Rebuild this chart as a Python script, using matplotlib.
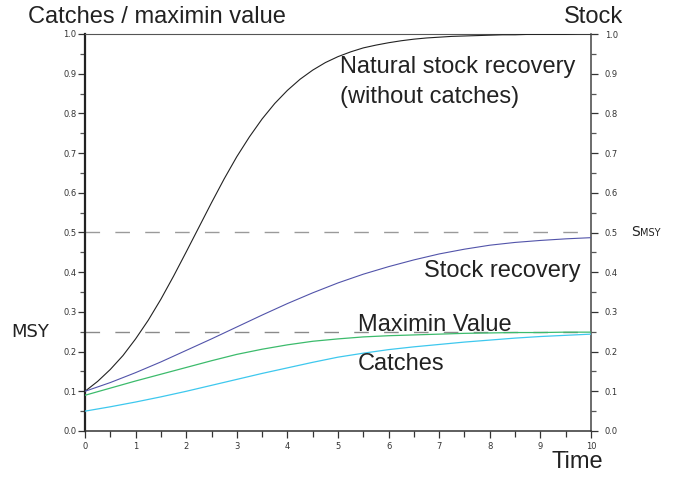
import numpy as np
import matplotlib
matplotlib.use("Agg")
import matplotlib.pyplot as plt
from matplotlib.ticker import MultipleLocator

# ---------------- data ----------------
t_fine = [0, 0.25, 0.5, 0.75, 1, 1.25, 1.5, 1.75, 2, 2.25, 2.5, 2.75, 3, 3.25,
          3.5, 3.75, 4, 4.25, 4.5, 4.75, 5, 5.25, 5.5, 5.75, 6, 6.25, 6.5, 6.75,
          7, 7.25, 7.5, 7.75, 8, 8.25, 8.5, 8.75, 9, 9.25, 9.5, 9.75, 10]
natural_recovery = [0.100, 0.125, 0.155, 0.190, 0.232, 0.279, 0.332, 0.390,
                    0.451, 0.513, 0.575, 0.635, 0.691, 0.741, 0.786, 0.825,
                    0.858, 0.886, 0.909, 0.928, 0.943, 0.955, 0.965, 0.972,
                    0.978, 0.983, 0.987, 0.990, 0.992, 0.994, 0.995, 0.996,
                    0.997, 0.998, 0.998, 0.999, 0.999, 0.999, 0.999, 1.000, 1.000]

t_coarse = [0, 0.5, 1, 1.5, 2, 2.5, 3, 3.5, 4, 4.5, 5, 5.5, 6, 6.5, 7, 7.5, 8,
            8.5, 9, 9.5, 10]
stock_recovery = [0.100, 0.122, 0.147, 0.174, 0.203, 0.232, 0.262, 0.292, 0.321,
                  0.348, 0.373, 0.395, 0.414, 0.431, 0.446, 0.458, 0.468, 0.475,
                  0.480, 0.484, 0.487]
maximin_value = [0.090, 0.108, 0.126, 0.143, 0.160, 0.177, 0.193, 0.206, 0.217,
                 0.226, 0.232, 0.237, 0.240, 0.242, 0.244, 0.246, 0.247, 0.248,
                 0.248, 0.249, 0.249]
catches = [0.050, 0.061, 0.073, 0.086, 0.100, 0.115, 0.130, 0.145, 0.159, 0.173,
           0.186, 0.196, 0.205, 0.212, 0.218, 0.224, 0.229, 0.234, 0.238, 0.241,
           0.244]

s_msy = 0.5
msy = 0.25

x_ticks = list(range(0, 11))
y_ticks = [0.0, 0.1, 0.2, 0.3, 0.4, 0.5, 0.6, 0.7, 0.8, 0.9, 1.0]
y_ticklabels = ["0.0", "0.1", "0.2", "0.3", "0.4", "0.5", "0.6", "0.7", "0.8", "0.9", "1.0"]

# ---------------- figure ----------------
W, H = 678, 478
fig = plt.figure(figsize=(W / 100, H / 100), dpi=100)
ax = fig.add_axes([85 / W, 47 / H, 506 / W, 397 / H])
ax.set_xlim(0, 10)
ax.set_ylim(0, 1)

main_font = "Liberation Sans"
tick_font = "DejaVu Sans"

# reference dashed lines
ax.plot([0, 10], [s_msy, s_msy], color="#9a9a9a", lw=1.0, dashes=(10.5, 11), zorder=1)
ax.plot([0, 10], [msy, msy], color="#8a8a8a", lw=1.0, dashes=(10.5, 11), zorder=1)

# curves
ax.plot(t_fine, natural_recovery, color="#222222", lw=0.8, zorder=3)
ax.plot(t_coarse, stock_recovery, color="#5254aa", lw=0.8, zorder=3)
ax.plot(t_coarse, maximin_value, color="#3cbb6c", lw=0.9, zorder=3)
ax.plot(t_coarse, catches, color="#3ec8ee", lw=0.9, zorder=3)

# spines
ax.spines["left"].set_linewidth(1.6)
ax.spines["left"].set_color("#222222")
ax.spines["bottom"].set_linewidth(1.1)
ax.spines["bottom"].set_color("#333333")
ax.spines["top"].set_linewidth(0.8)
ax.spines["top"].set_color("#555555")
ax.spines["right"].set_linewidth(1.1)
ax.spines["right"].set_color("#444444")

# x ticks
ax.set_xticks(x_ticks)
ax.set_xticklabels([str(v) for v in x_ticks], fontfamily=tick_font, fontsize=6, color="#333333")
ax.xaxis.set_minor_locator(MultipleLocator(0.5))
ax.tick_params(axis="x", which="major", direction="out", length=5, width=0.9,
               color="#333333", pad=3)
ax.tick_params(axis="x", which="minor", direction="out", length=4.3, width=0.9,
               color="#333333")

# left y ticks
ax.set_yticks(y_ticks)
ax.set_yticklabels(y_ticklabels, fontfamily=tick_font, fontsize=6, color="#333333")
ax.yaxis.set_minor_locator(MultipleLocator(0.05))
ax.tick_params(axis="y", which="major", direction="out", length=5, width=0.9,
               color="#333333", pad=1)
ax.tick_params(axis="y", which="minor", direction="out", length=3.5, width=0.9,
               color="#555555")

# right y axis
ax2 = ax.twinx()
ax2.set_ylim(0, 1)
ax2.set_yticks(y_ticks)
ax2.set_yticklabels(y_ticklabels, fontfamily=tick_font, fontsize=6, color="#333333")
ax2.yaxis.set_minor_locator(MultipleLocator(0.05))
ax2.tick_params(axis="y", which="major", direction="out", length=5, width=0.9,
                color="#333333", pad=5)
ax2.tick_params(axis="y", which="minor", direction="out", length=3.5, width=0.9,
                color="#555555")
for s in ax2.spines.values():
    s.set_visible(False)

# in-plot labels
txt_kw = dict(fontfamily=main_font, fontsize=17, color="#222222", zorder=5)
ax.text(5.04, 0.901, "Natural stock recovery", ha="left", va="baseline", **txt_kw)
ax.text(5.04, 0.825, "(without catches)", ha="left", va="baseline", **txt_kw)
ax.text(6.69, 0.389, "Stock recovery", ha="left", va="baseline", **txt_kw)
ax.text(5.40, 0.252, "Maximin Value", ha="left", va="baseline", **txt_kw)
ax.text(5.40, 0.154, "Catches", ha="left", va="baseline", **txt_kw)

# figure-level labels
fig.text(28 / W, 1 - 22.7 / H, "Catches / maximin value", ha="left", va="baseline",
         fontfamily=main_font, fontsize=17, color="#222222")
fig.text(623 / W, 1 - 22.7 / H, "Stock", ha="right", va="baseline",
         fontfamily=main_font, fontsize=17, color="#222222")
fig.text(552 / W, 1 - 468.3 / H, "Time", ha="left", va="baseline",
         fontfamily=main_font, fontsize=17, color="#222222")
fig.text(11 / W, 1 - 336.7 / H, "MSY", ha="left", va="baseline",
         fontfamily=tick_font, fontsize=13, color="#222222")
fig.text(631 / W, 1 - 235.5 / H, "S", ha="left", va="baseline",
         fontfamily=tick_font, fontsize=10, color="#222222")
fig.text(640 / W, 1 - 235.5 / H, "MSY", ha="left", va="baseline",
         fontfamily=tick_font, fontsize=7, color="#222222")

fig.savefig("out.png", dpi=100)
